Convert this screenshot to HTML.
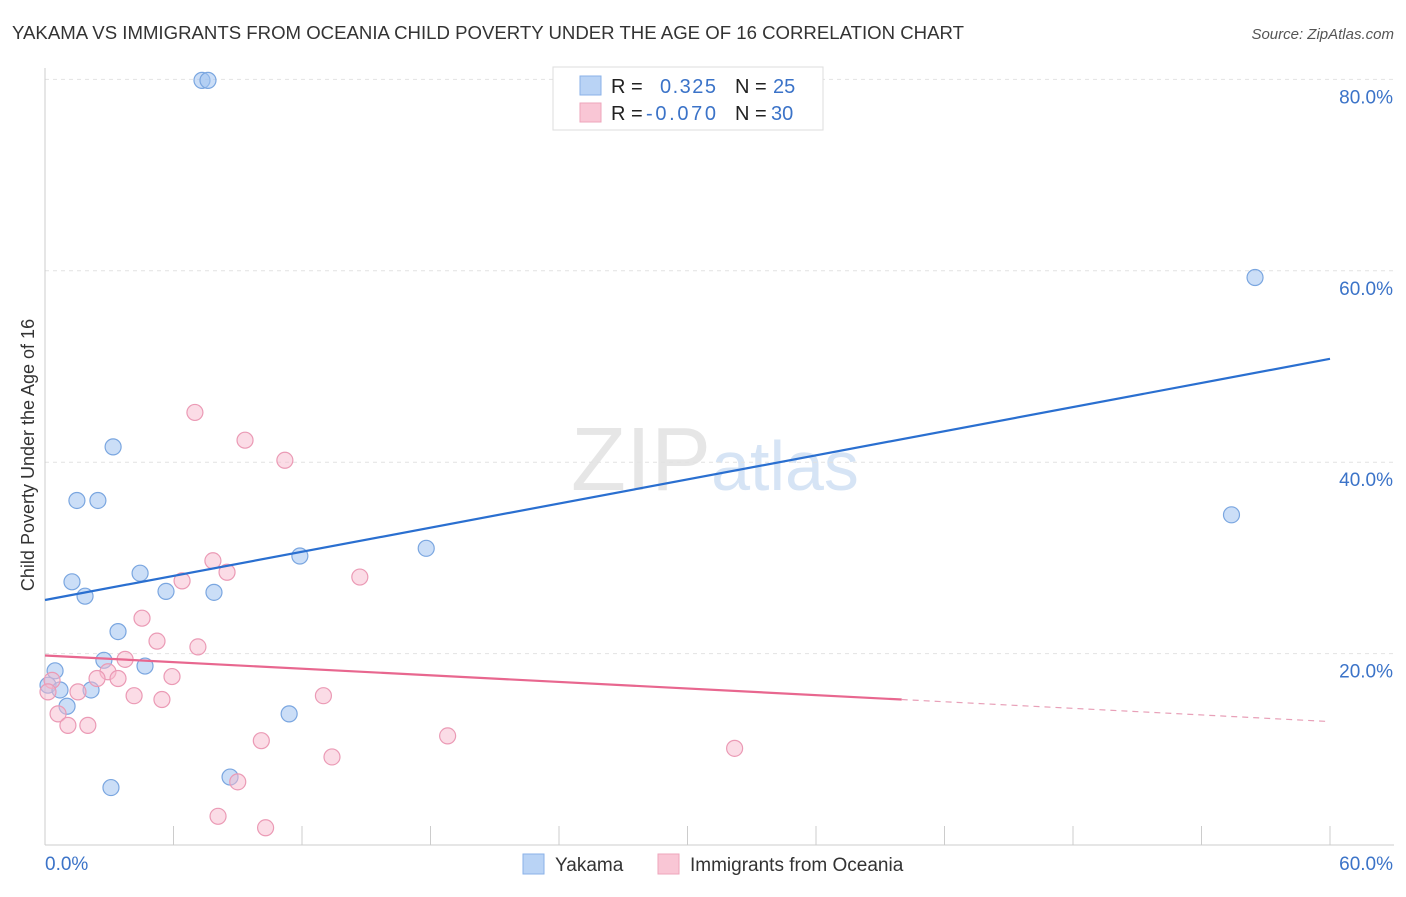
<!DOCTYPE html>
<html><head><meta charset="utf-8"><style>
body{margin:0;background:#fff;font-family:"Liberation Sans",sans-serif}
svg text{font-family:"Liberation Sans",sans-serif}
</style></head><body>
<svg width="1406" height="892" xmlns="http://www.w3.org/2000/svg">
<text x="12" y="39" font-size="18" fill="#333" textLength="952" lengthAdjust="spacingAndGlyphs">YAKAMA VS IMMIGRANTS FROM OCEANIA CHILD POVERTY UNDER THE AGE OF 16 CORRELATION CHART</text>
<text x="1394" y="39" font-size="15" fill="#555" font-style="italic" text-anchor="end">Source: ZipAtlas.com</text>
<text x="715" y="490" font-size="90" fill="#e6e6e6" text-anchor="middle" font-family="Liberation Serif">ZIP<tspan fill="#d6e4f5" font-family="Liberation Sans" font-size="70">atlas</tspan></text>
<g id="grid"></g>
<g id="axes"></g>
<g id="marks"></g>
<text transform="translate(34,455) rotate(-90)" font-size="18" fill="#333" text-anchor="middle">Child Poverty Under the Age of 16</text>
<g>
<rect x="553" y="67" width="270" height="63" fill="#fff" stroke="#ddd"/>
<rect x="580" y="76" width="21" height="19" fill="#b9d3f5" stroke="#8ab2e8"/>
<rect x="580" y="103" width="21" height="19" fill="#f9c6d5" stroke="#eea5bb"/>
<text x="611" y="93" font-size="20" fill="#222">R = <tspan x="660" fill="#3b73c8" textLength="56">0.325</tspan><tspan x="735" fill="#222">N = </tspan><tspan x="773" fill="#3b73c8">25</tspan></text>
<text x="611" y="120" font-size="20" fill="#222">R = <tspan x="646" fill="#3b73c8" textLength="70">-0.070</tspan><tspan x="735" fill="#222">N = </tspan><tspan x="771" fill="#3b73c8">30</tspan></text>
</g>
<g>
<rect x="523" y="854" width="21" height="20" fill="#b9d3f5" stroke="#8ab2e8"/>
<text x="555" y="871" font-size="19" fill="#333">Yakama</text>
<rect x="658" y="854" width="21" height="20" fill="#f9c6d5" stroke="#eea5bb"/>
<text x="690" y="871" font-size="19" fill="#333">Immigrants from Oceania</text>
</g>
</svg>
<script>
const yTicks=[20,40,60,80];
const yTickLabels=["20.0%","40.0%","60.0%","80.0%"];
const xTicks=[0,6,12,18,24,30,36,42,48,54,60];
const blueX=[7.33,7.61,56.5,3.18,1.49,2.47,55.4,17.8,11.9,1.26,4.44,1.87,5.65,7.89,3.41,2.75,4.67,0.47,0.14,0.70,2.15,1.03,11.4,8.64,3.08];
const blueY=[79.9,79.9,59.3,41.6,36.0,36.0,34.5,31.0,30.2,27.5,28.4,26.0,26.5,26.4,22.3,19.3,18.7,18.2,16.7,16.2,16.2,14.5,13.7,7.1,6.0];
const pinkX=[7.0,9.34,11.2,7.84,6.40,8.50,14.7,4.53,5.23,7.14,3.74,2.94,5.93,2.43,3.41,0.33,0.14,1.54,4.16,5.46,13.0,0.61,1.07,2.0,18.8,10.1,32.2,13.4,9.0,8.08,10.3];
const pinkY=[45.2,42.3,40.2,29.7,27.6,28.5,28.0,23.7,21.3,20.7,19.4,18.1,17.6,17.4,17.4,17.2,16.0,16.0,15.6,15.2,15.6,13.7,12.5,12.5,11.4,10.9,10.1,9.2,6.6,3.0,1.8];
const blueTrend=[[0,25.6],[60,50.8]];
const pinkTrend=[[0,19.8],[40,15.2],[60,12.9]];
const NS="http://www.w3.org/2000/svg";
const X=v=>45+v/60*1285, Y=v=>845-v/20*191.4;
function mk(t,a,p){const e=document.createElementNS(NS,t);for(const k in a)e.setAttribute(k,a[k]);document.getElementById(p).appendChild(e);return e;}
yTicks.forEach((t,i)=>{
 const g=mk('line',{x1:45,x2:1394,y1:Y(t),y2:Y(t),stroke:'#e2e2e2','stroke-dasharray':'4,4'},'grid');
 
 
 const l=mk('text',{x:1393,y:Y(t)+24,'font-size':19,fill:'#3b73c8','text-anchor':'end'},'axes');
 l.textContent=yTickLabels[i];
 
 
});
const ax=mk('line',{x1:45,x2:45,y1:68,y2:845,stroke:'#ccc'},'axes');


const bx=mk('line',{x1:45,x2:1394,y1:845,y2:845,stroke:'#ccc'},'axes');


xTicks.forEach(t=>{const k=mk('line',{x1:X(t),x2:X(t),y1:826,y2:845,stroke:'#ccc'},'axes');
 
 });
[[0,'0.0%','start',45],[60,'60.0%','end',1393]].forEach(d=>{const l=mk('text',{x:d[3],y:870,'font-size':19,fill:'#3b73c8','text-anchor':d[2]},'axes');l.textContent=d[1];
 
 });
blueX.forEach((v,i)=>{const c=mk('circle',{cx:X(v),cy:Y(blueY[i]),r:8,fill:'rgba(160,195,240,0.55)',stroke:'#7aa6e0','stroke-width':1.2},'marks');
 
 });
pinkX.forEach((v,i)=>{const c=mk('circle',{cx:X(v),cy:Y(pinkY[i]),r:8,fill:'rgba(248,185,205,0.5)',stroke:'#eb9ab5','stroke-width':1.2},'marks');
 
 });
const bl=mk('line',{x1:X(blueTrend[0][0]),y1:Y(blueTrend[0][1]),x2:X(blueTrend[1][0]),y2:Y(blueTrend[1][1]),stroke:'#2a6fd0','stroke-width':2.2},'marks');


const pl=mk('line',{x1:X(pinkTrend[0][0]),y1:Y(pinkTrend[0][1]),x2:X(pinkTrend[1][0]),y2:Y(pinkTrend[1][1]),stroke:'#e8678f','stroke-width':2.2},'marks');


const pd=mk('line',{x1:X(pinkTrend[1][0]),y1:Y(pinkTrend[1][1]),x2:X(pinkTrend[2][0]),y2:Y(pinkTrend[2][1]),stroke:'#e8a0b8','stroke-width':1.2,'stroke-dasharray':'6,5'},'marks');


</script>
</body></html>
